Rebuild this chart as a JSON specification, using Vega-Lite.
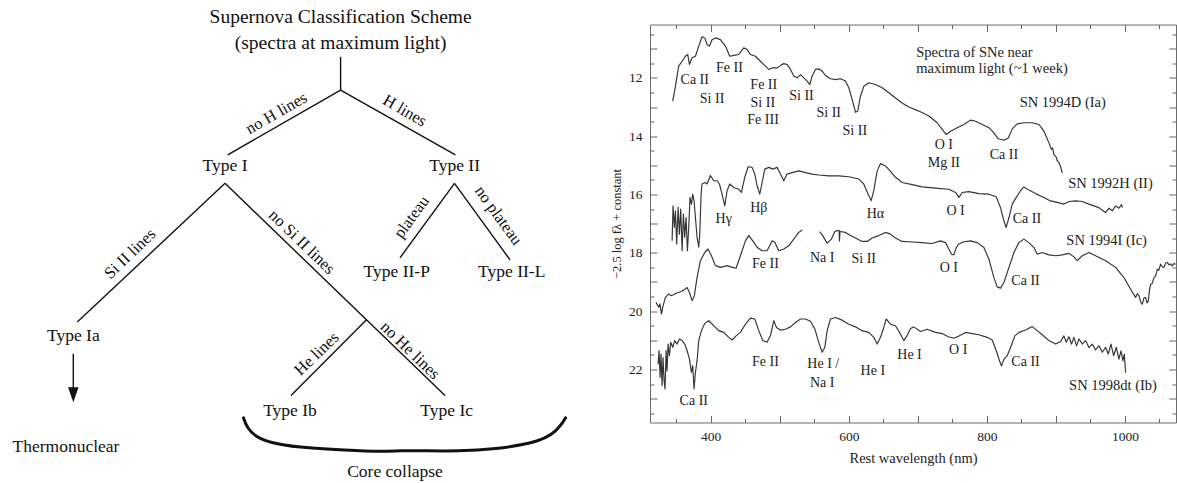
{
  "$schema": "https://vega.github.io/schema/vega-lite/v6.json",
  "padding": {"left": 0, "top": 6.5, "right": 0, "bottom": 0},
  "spacing": 10,
  "config": {
    "font": "Liberation Serif",
    "view": {"stroke": null},
    "axis": {
      "grid": false,
      "domain": false,
      "labelFont": "Liberation Serif",
      "titleFont": "Liberation Serif",
      "titleFontWeight": "normal",
      "labelColor": "#222222",
      "titleColor": "#222222",
      "tickColor": "#666666",
      "tickWidth": 1
    },
    "text": {"font": "Liberation Serif", "color": "#1a1a1a"}
  },
  "datasets": {
    "edges": [
      {"x": 340.6, "y": 56, "x2": 340.6, "y2": 89.3},
      {"x": 340.6, "y": 89.3, "x2": 227.7, "y2": 154},
      {"x": 340.6, "y": 89.3, "x2": 455.4, "y2": 154},
      {"x": 225, "y": 182.5, "x2": 77.3, "y2": 321.3},
      {"x": 225, "y": 182.5, "x2": 445, "y2": 394.7},
      {"x": 366.5, "y": 319, "x2": 291, "y2": 394.7},
      {"x": 454.5, "y": 182.5, "x2": 400, "y2": 257},
      {"x": 454.5, "y": 182.5, "x2": 510, "y2": 259},
      {"x": 73.3, "y": 353, "x2": 73.3, "y2": 390}
    ],
    "arrowHead": [{"x": 73.3, "y": 394}],
    "heading": [
      {"line": "Supernova Classification Scheme", "x": 340.6, "y": 16.5},
      {"line": "(spectra at maximum light)", "x": 340.6, "y": 42}
    ],
    "nodes": [
      {"label": "Type I", "x": 225, "y": 165},
      {"label": "Type II", "x": 454.6, "y": 165},
      {"label": "Type Ia", "x": 73.3, "y": 334.7},
      {"label": "Type II-P", "x": 396.7, "y": 271.3},
      {"label": "Type II-L", "x": 511.7, "y": 271.3},
      {"label": "Type Ib", "x": 290, "y": 409.7},
      {"label": "Type Ic", "x": 446.7, "y": 409.7},
      {"label": "Thermonuclear", "x": 66, "y": 446.3},
      {"label": "Core collapse", "x": 395, "y": 471.3}
    ],
    "branchLabels": [
      {"label": "no H lines", "x": 276.5, "y": 112.5},
      {"label": "H lines", "x": 404.7, "y": 110},
      {"label": "Si II lines", "x": 130, "y": 253},
      {"label": "no Si II lines", "x": 301.7, "y": 241.3},
      {"label": "plateau", "x": 411.7, "y": 216.3},
      {"label": "no plateau", "x": 498.3, "y": 214.7},
      {"label": "He lines", "x": 316.7, "y": 353},
      {"label": "no He lines", "x": 410, "y": 349.7}
    ],
    "brace": [
      {"x": 243.5, "y": 417}, {"x": 247, "y": 427}, {"x": 255, "y": 435.5},
      {"x": 270, "y": 442}, {"x": 296.7, "y": 446.5}, {"x": 346.7, "y": 449.5},
      {"x": 382.7, "y": 451}, {"x": 400, "y": 449.8}, {"x": 420, "y": 449.8},
      {"x": 459, "y": 450.5}, {"x": 496.7, "y": 448}, {"x": 528, "y": 443.3},
      {"x": 546.7, "y": 437}, {"x": 556, "y": 430}, {"x": 562, "y": 423}, {"x": 565.6, "y": 417}
    ],
    "spectra": [
      {"seg": "1994D", "wl": 344.9, "mag": 12.8}, {"seg": "1994D", "wl": 348.8, "mag": 12.29}, {"seg": "1994D", "wl": 353.6, "mag": 11.6},
      {"seg": "1994D", "wl": 358.5, "mag": 11.43}, {"seg": "1994D", "wl": 363.3, "mag": 11.26}, {"seg": "1994D", "wl": 366.7, "mag": 11.2},
      {"seg": "1994D", "wl": 369.1, "mag": 11.54}, {"seg": "1994D", "wl": 372.9, "mag": 11.31}, {"seg": "1994D", "wl": 377.8, "mag": 11.26},
      {"seg": "1994D", "wl": 382.6, "mag": 10.91}, {"seg": "1994D", "wl": 387.4, "mag": 10.59}, {"seg": "1994D", "wl": 391.3, "mag": 10.63},
      {"seg": "1994D", "wl": 394.7, "mag": 10.86}, {"seg": "1994D", "wl": 398.1, "mag": 10.91}, {"seg": "1994D", "wl": 401.9, "mag": 10.69},
      {"seg": "1994D", "wl": 406.8, "mag": 10.63}, {"seg": "1994D", "wl": 414.0, "mag": 10.69}, {"seg": "1994D", "wl": 421.3, "mag": 10.91},
      {"seg": "1994D", "wl": 427.5, "mag": 11.26}, {"seg": "1994D", "wl": 433.3, "mag": 11.23}, {"seg": "1994D", "wl": 440.6, "mag": 11.2},
      {"seg": "1994D", "wl": 447.8, "mag": 10.97}, {"seg": "1994D", "wl": 452.7, "mag": 11.03}, {"seg": "1994D", "wl": 457.5, "mag": 11.2},
      {"seg": "1994D", "wl": 464.7, "mag": 11.26}, {"seg": "1994D", "wl": 472.0, "mag": 11.43}, {"seg": "1994D", "wl": 479.2, "mag": 11.6},
      {"seg": "1994D", "wl": 484.1, "mag": 11.71}, {"seg": "1994D", "wl": 488.9, "mag": 11.66}, {"seg": "1994D", "wl": 496.1, "mag": 11.66},
      {"seg": "1994D", "wl": 501.0, "mag": 11.58}, {"seg": "1994D", "wl": 505.8, "mag": 11.51}, {"seg": "1994D", "wl": 510.6, "mag": 11.54},
      {"seg": "1994D", "wl": 515.5, "mag": 11.71}, {"seg": "1994D", "wl": 520.3, "mag": 11.94}, {"seg": "1994D", "wl": 525.1, "mag": 12.0},
      {"seg": "1994D", "wl": 530.0, "mag": 11.89}, {"seg": "1994D", "wl": 534.8, "mag": 12.0}, {"seg": "1994D", "wl": 539.6, "mag": 12.11},
      {"seg": "1994D", "wl": 543.5, "mag": 12.23}, {"seg": "1994D", "wl": 546.9, "mag": 11.94}, {"seg": "1994D", "wl": 551.7, "mag": 11.71},
      {"seg": "1994D", "wl": 556.5, "mag": 11.69}, {"seg": "1994D", "wl": 561.4, "mag": 11.77}, {"seg": "1994D", "wl": 566.2, "mag": 11.92},
      {"seg": "1994D", "wl": 573.4, "mag": 12.03}, {"seg": "1994D", "wl": 580.7, "mag": 12.06}, {"seg": "1994D", "wl": 587.9, "mag": 12.03},
      {"seg": "1994D", "wl": 595.2, "mag": 12.11}, {"seg": "1994D", "wl": 600.0, "mag": 12.34}, {"seg": "1994D", "wl": 604.8, "mag": 12.74},
      {"seg": "1994D", "wl": 609.7, "mag": 13.18}, {"seg": "1994D", "wl": 613.0, "mag": 13.14}, {"seg": "1994D", "wl": 616.9, "mag": 12.63},
      {"seg": "1994D", "wl": 621.7, "mag": 12.29}, {"seg": "1994D", "wl": 629.0, "mag": 12.17}, {"seg": "1994D", "wl": 638.6, "mag": 12.23},
      {"seg": "1994D", "wl": 648.3, "mag": 12.34}, {"seg": "1994D", "wl": 658.0, "mag": 12.51}, {"seg": "1994D", "wl": 667.6, "mag": 12.69},
      {"seg": "1994D", "wl": 677.3, "mag": 12.86}, {"seg": "1994D", "wl": 687.0, "mag": 13.0}, {"seg": "1994D", "wl": 701.5, "mag": 13.14},
      {"seg": "1994D", "wl": 716.0, "mag": 13.31}, {"seg": "1994D", "wl": 728.0, "mag": 13.54}, {"seg": "1994D", "wl": 735.3, "mag": 13.77},
      {"seg": "1994D", "wl": 741.0, "mag": 13.94}, {"seg": "1994D", "wl": 747.4, "mag": 13.83}, {"seg": "1994D", "wl": 757.0, "mag": 13.71},
      {"seg": "1994D", "wl": 766.7, "mag": 13.6}, {"seg": "1994D", "wl": 776.4, "mag": 13.45}, {"seg": "1994D", "wl": 783.6, "mag": 13.49},
      {"seg": "1994D", "wl": 793.3, "mag": 13.6}, {"seg": "1994D", "wl": 803.0, "mag": 13.71}, {"seg": "1994D", "wl": 810.2, "mag": 13.89},
      {"seg": "1994D", "wl": 816.5, "mag": 14.09}, {"seg": "1994D", "wl": 824.7, "mag": 14.14}, {"seg": "1994D", "wl": 831.0, "mag": 14.06},
      {"seg": "1994D", "wl": 836.8, "mag": 13.75}, {"seg": "1994D", "wl": 844.0, "mag": 13.58}, {"seg": "1994D", "wl": 853.7, "mag": 13.54},
      {"seg": "1994D", "wl": 865.7, "mag": 13.54}, {"seg": "1994D", "wl": 875.4, "mag": 13.6}, {"seg": "1994D", "wl": 882.7, "mag": 13.83},
      {"seg": "1994D", "wl": 889.9, "mag": 14.23}, {"seg": "1994D", "wl": 893.5, "mag": 14.45}, {"seg": "1994D", "wl": 895.2, "mag": 14.4},
      {"seg": "1994D", "wl": 897.1, "mag": 14.63}, {"seg": "1994D", "wl": 900.5, "mag": 14.72}, {"seg": "1994D", "wl": 902.2, "mag": 14.85},
      {"seg": "1994D", "wl": 904.4, "mag": 14.91}, {"seg": "1994D", "wl": 906.5, "mag": 15.02}, {"seg": "1994D", "wl": 907.6, "mag": 15.12},
      {"seg": "1994D", "wl": 909.2, "mag": 15.26},

      {"seg": "1992H", "wl": 344.0, "mag": 17.59}, {"seg": "1992H", "wl": 345.4, "mag": 16.39}, {"seg": "1992H", "wl": 347.3, "mag": 17.13},
      {"seg": "1992H", "wl": 348.8, "mag": 16.56}, {"seg": "1992H", "wl": 350.7, "mag": 17.7}, {"seg": "1992H", "wl": 352.7, "mag": 16.44},
      {"seg": "1992H", "wl": 354.6, "mag": 17.36}, {"seg": "1992H", "wl": 356.5, "mag": 16.5}, {"seg": "1992H", "wl": 358.5, "mag": 17.93},
      {"seg": "1992H", "wl": 360.4, "mag": 16.67}, {"seg": "1992H", "wl": 362.3, "mag": 17.47}, {"seg": "1992H", "wl": 364.3, "mag": 16.79},
      {"seg": "1992H", "wl": 366.2, "mag": 17.93}, {"seg": "1992H", "wl": 368.1, "mag": 17.13}, {"seg": "1992H", "wl": 370.0, "mag": 16.1},
      {"seg": "1992H", "wl": 372.0, "mag": 16.33}, {"seg": "1992H", "wl": 373.9, "mag": 15.99}, {"seg": "1992H", "wl": 375.8, "mag": 16.21},
      {"seg": "1992H", "wl": 377.8, "mag": 16.79}, {"seg": "1992H", "wl": 380.2, "mag": 17.47}, {"seg": "1992H", "wl": 382.6, "mag": 17.81},
      {"seg": "1992H", "wl": 384.1, "mag": 17.36}, {"seg": "1992H", "wl": 386.0, "mag": 15.99}, {"seg": "1992H", "wl": 387.4, "mag": 15.64},
      {"seg": "1992H", "wl": 391.3, "mag": 15.59}, {"seg": "1992H", "wl": 394.7, "mag": 15.64}, {"seg": "1992H", "wl": 399.5, "mag": 15.35},
      {"seg": "1992H", "wl": 404.3, "mag": 15.53}, {"seg": "1992H", "wl": 409.2, "mag": 15.53}, {"seg": "1992H", "wl": 412.6, "mag": 15.64},
      {"seg": "1992H", "wl": 416.4, "mag": 15.99}, {"seg": "1992H", "wl": 420.3, "mag": 16.39}, {"seg": "1992H", "wl": 423.7, "mag": 15.87},
      {"seg": "1992H", "wl": 427.5, "mag": 15.64}, {"seg": "1992H", "wl": 433.3, "mag": 15.76}, {"seg": "1992H", "wl": 439.6, "mag": 15.81},
      {"seg": "1992H", "wl": 444.4, "mag": 15.93}, {"seg": "1992H", "wl": 449.3, "mag": 15.41}, {"seg": "1992H", "wl": 454.1, "mag": 15.05},
      {"seg": "1992H", "wl": 459.9, "mag": 15.07}, {"seg": "1992H", "wl": 463.8, "mag": 15.3}, {"seg": "1992H", "wl": 467.1, "mag": 15.7},
      {"seg": "1992H", "wl": 471.0, "mag": 15.99}, {"seg": "1992H", "wl": 474.4, "mag": 15.59}, {"seg": "1992H", "wl": 478.3, "mag": 15.13},
      {"seg": "1992H", "wl": 484.1, "mag": 15.07}, {"seg": "1992H", "wl": 489.9, "mag": 15.13}, {"seg": "1992H", "wl": 496.1, "mag": 15.07},
      {"seg": "1992H", "wl": 501.0, "mag": 15.3}, {"seg": "1992H", "wl": 505.8, "mag": 15.53}, {"seg": "1992H", "wl": 510.6, "mag": 15.3},
      {"seg": "1992H", "wl": 517.9, "mag": 15.25}, {"seg": "1992H", "wl": 527.5, "mag": 15.19}, {"seg": "1992H", "wl": 537.2, "mag": 15.25},
      {"seg": "1992H", "wl": 546.9, "mag": 15.3}, {"seg": "1992H", "wl": 556.5, "mag": 15.33}, {"seg": "1992H", "wl": 571.0, "mag": 15.36},
      {"seg": "1992H", "wl": 585.5, "mag": 15.36}, {"seg": "1992H", "wl": 600.0, "mag": 15.39}, {"seg": "1992H", "wl": 614.5, "mag": 15.47},
      {"seg": "1992H", "wl": 621.7, "mag": 15.64}, {"seg": "1992H", "wl": 628.0, "mag": 15.99}, {"seg": "1992H", "wl": 632.4, "mag": 16.21},
      {"seg": "1992H", "wl": 636.2, "mag": 15.87}, {"seg": "1992H", "wl": 641.1, "mag": 15.19}, {"seg": "1992H", "wl": 645.9, "mag": 14.94},
      {"seg": "1992H", "wl": 653.1, "mag": 15.02}, {"seg": "1992H", "wl": 660.4, "mag": 15.21}, {"seg": "1992H", "wl": 667.6, "mag": 15.41},
      {"seg": "1992H", "wl": 677.3, "mag": 15.59}, {"seg": "1992H", "wl": 691.8, "mag": 15.66}, {"seg": "1992H", "wl": 706.3, "mag": 15.74},
      {"seg": "1992H", "wl": 725.6, "mag": 15.78}, {"seg": "1992H", "wl": 745.0, "mag": 15.82}, {"seg": "1992H", "wl": 754.6, "mag": 15.93},
      {"seg": "1992H", "wl": 759.5, "mag": 16.1}, {"seg": "1992H", "wl": 764.3, "mag": 15.93}, {"seg": "1992H", "wl": 774.0, "mag": 15.9},
      {"seg": "1992H", "wl": 788.4, "mag": 15.97}, {"seg": "1992H", "wl": 803.0, "mag": 15.99}, {"seg": "1992H", "wl": 813.6, "mag": 16.08},
      {"seg": "1992H", "wl": 819.9, "mag": 16.46}, {"seg": "1992H", "wl": 824.7, "mag": 16.91}, {"seg": "1992H", "wl": 828.0, "mag": 17.13},
      {"seg": "1992H", "wl": 832.0, "mag": 16.79}, {"seg": "1992H", "wl": 836.8, "mag": 16.33}, {"seg": "1992H", "wl": 842.6, "mag": 16.1},
      {"seg": "1992H", "wl": 848.8, "mag": 15.87}, {"seg": "1992H", "wl": 853.7, "mag": 15.74}, {"seg": "1992H", "wl": 860.9, "mag": 15.85},
      {"seg": "1992H", "wl": 870.6, "mag": 15.97}, {"seg": "1992H", "wl": 880.2, "mag": 16.08}, {"seg": "1992H", "wl": 892.3, "mag": 16.22},
      {"seg": "1992H", "wl": 901.9, "mag": 16.27}, {"seg": "1992H", "wl": 911.6, "mag": 16.33}, {"seg": "1992H", "wl": 918.9, "mag": 16.24},
      {"seg": "1992H", "wl": 928.5, "mag": 16.22}, {"seg": "1992H", "wl": 938.2, "mag": 16.24}, {"seg": "1992H", "wl": 947.9, "mag": 16.33},
      {"seg": "1992H", "wl": 955.1, "mag": 16.39}, {"seg": "1992H", "wl": 962.4, "mag": 16.45}, {"seg": "1992H", "wl": 967.2, "mag": 16.54},
      {"seg": "1992H", "wl": 972.0, "mag": 16.62}, {"seg": "1992H", "wl": 976.9, "mag": 16.47}, {"seg": "1992H", "wl": 981.7, "mag": 16.56},
      {"seg": "1992H", "wl": 986.5, "mag": 16.39}, {"seg": "1992H", "wl": 991.3, "mag": 16.47}, {"seg": "1992H", "wl": 995.2, "mag": 16.35},
      {"seg": "1992H", "wl": 996.2, "mag": 16.45},

      {"seg": "1994I-blue", "wl": 320.8, "mag": 19.7}, {"seg": "1994I-blue", "wl": 324.6, "mag": 19.87}, {"seg": "1994I-blue", "wl": 326.5, "mag": 19.75},
      {"seg": "1994I-blue", "wl": 328.5, "mag": 20.1}, {"seg": "1994I-blue", "wl": 330.4, "mag": 19.87}, {"seg": "1994I-blue", "wl": 334.3, "mag": 19.53},
      {"seg": "1994I-blue", "wl": 339.1, "mag": 19.41}, {"seg": "1994I-blue", "wl": 342.0, "mag": 19.47}, {"seg": "1994I-blue", "wl": 346.4, "mag": 19.44},
      {"seg": "1994I-blue", "wl": 350.0, "mag": 19.38}, {"seg": "1994I-blue", "wl": 353.6, "mag": 19.36}, {"seg": "1994I-blue", "wl": 357.0, "mag": 19.33},
      {"seg": "1994I-blue", "wl": 360.9, "mag": 19.28}, {"seg": "1994I-blue", "wl": 365.7, "mag": 19.19}, {"seg": "1994I-blue", "wl": 369.1, "mag": 19.36},
      {"seg": "1994I-blue", "wl": 373.0, "mag": 19.64}, {"seg": "1994I-blue", "wl": 376.3, "mag": 19.47}, {"seg": "1994I-blue", "wl": 380.2, "mag": 18.84},
      {"seg": "1994I-blue", "wl": 385.0, "mag": 18.27}, {"seg": "1994I-blue", "wl": 391.3, "mag": 17.99}, {"seg": "1994I-blue", "wl": 396.1, "mag": 17.87},
      {"seg": "1994I-blue", "wl": 401.0, "mag": 18.1}, {"seg": "1994I-blue", "wl": 406.8, "mag": 18.44}, {"seg": "1994I-blue", "wl": 414.0, "mag": 18.5},
      {"seg": "1994I-blue", "wl": 423.7, "mag": 18.44}, {"seg": "1994I-blue", "wl": 431.0, "mag": 18.5}, {"seg": "1994I-blue", "wl": 436.7, "mag": 18.53},
      {"seg": "1994I-blue", "wl": 443.0, "mag": 18.1}, {"seg": "1994I-blue", "wl": 450.2, "mag": 17.59}, {"seg": "1994I-blue", "wl": 455.1, "mag": 17.41},
      {"seg": "1994I-blue", "wl": 460.9, "mag": 17.59}, {"seg": "1994I-blue", "wl": 467.1, "mag": 17.81}, {"seg": "1994I-blue", "wl": 474.4, "mag": 17.93},
      {"seg": "1994I-blue", "wl": 481.6, "mag": 17.93}, {"seg": "1994I-blue", "wl": 488.9, "mag": 17.59}, {"seg": "1994I-blue", "wl": 492.8, "mag": 17.64},
      {"seg": "1994I-blue", "wl": 498.6, "mag": 17.93}, {"seg": "1994I-blue", "wl": 505.8, "mag": 17.87}, {"seg": "1994I-blue", "wl": 513.0, "mag": 17.76},
      {"seg": "1994I-blue", "wl": 520.3, "mag": 17.53}, {"seg": "1994I-blue", "wl": 527.5, "mag": 17.3}, {"seg": "1994I-blue", "wl": 532.4, "mag": 17.22},

      {"seg": "1994I-red", "wl": 557.5, "mag": 17.27}, {"seg": "1994I-red", "wl": 562.3, "mag": 17.41}, {"seg": "1994I-red", "wl": 568.6, "mag": 17.67},
      {"seg": "1994I-red", "wl": 574.9, "mag": 17.53}, {"seg": "1994I-red", "wl": 579.7, "mag": 17.27}, {"seg": "1994I-red", "wl": 583.6, "mag": 17.24},
      {"seg": "1994I-red", "wl": 586.0, "mag": 17.24}, {"seg": "1994I-red", "wl": 586.5, "mag": 17.59}, {"seg": "1994I-red", "wl": 587.2, "mag": 17.27},
      {"seg": "1994I-red", "wl": 595.2, "mag": 17.3}, {"seg": "1994I-red", "wl": 602.4, "mag": 17.41}, {"seg": "1994I-red", "wl": 609.7, "mag": 17.49},
      {"seg": "1994I-red", "wl": 619.3, "mag": 17.61}, {"seg": "1994I-red", "wl": 626.6, "mag": 17.61}, {"seg": "1994I-red", "wl": 633.8, "mag": 17.49},
      {"seg": "1994I-red", "wl": 643.5, "mag": 17.41}, {"seg": "1994I-red", "wl": 653.1, "mag": 17.3}, {"seg": "1994I-red", "wl": 660.4, "mag": 17.36},
      {"seg": "1994I-red", "wl": 667.6, "mag": 17.49}, {"seg": "1994I-red", "wl": 677.3, "mag": 17.61}, {"seg": "1994I-red", "wl": 691.8, "mag": 17.63},
      {"seg": "1994I-red", "wl": 706.3, "mag": 17.65}, {"seg": "1994I-red", "wl": 720.8, "mag": 17.68}, {"seg": "1994I-red", "wl": 732.9, "mag": 17.59},
      {"seg": "1994I-red", "wl": 740.1, "mag": 17.65}, {"seg": "1994I-red", "wl": 745.0, "mag": 17.88}, {"seg": "1994I-red", "wl": 748.8, "mag": 18.05},
      {"seg": "1994I-red", "wl": 752.2, "mag": 18.07}, {"seg": "1994I-red", "wl": 754.6, "mag": 17.88}, {"seg": "1994I-red", "wl": 758.5, "mag": 17.71},
      {"seg": "1994I-red", "wl": 766.7, "mag": 17.62}, {"seg": "1994I-red", "wl": 776.4, "mag": 17.59}, {"seg": "1994I-red", "wl": 786.0, "mag": 17.65},
      {"seg": "1994I-red", "wl": 795.7, "mag": 17.82}, {"seg": "1994I-red", "wl": 803.0, "mag": 18.22}, {"seg": "1994I-red", "wl": 810.2, "mag": 18.85},
      {"seg": "1994I-red", "wl": 815.0, "mag": 19.17}, {"seg": "1994I-red", "wl": 819.9, "mag": 19.21}, {"seg": "1994I-red", "wl": 824.7, "mag": 19.02},
      {"seg": "1994I-red", "wl": 832.0, "mag": 18.5}, {"seg": "1994I-red", "wl": 839.2, "mag": 17.99}, {"seg": "1994I-red", "wl": 846.4, "mag": 17.65},
      {"seg": "1994I-red", "wl": 853.7, "mag": 17.53}, {"seg": "1994I-red", "wl": 860.9, "mag": 17.65}, {"seg": "1994I-red", "wl": 868.2, "mag": 17.82},
      {"seg": "1994I-red", "wl": 873.0, "mag": 18.05}, {"seg": "1994I-red", "wl": 880.2, "mag": 17.99}, {"seg": "1994I-red", "wl": 889.9, "mag": 18.07},
      {"seg": "1994I-red", "wl": 899.6, "mag": 18.1}, {"seg": "1994I-red", "wl": 909.2, "mag": 18.07}, {"seg": "1994I-red", "wl": 918.9, "mag": 18.02},
      {"seg": "1994I-red", "wl": 926.1, "mag": 18.14}, {"seg": "1994I-red", "wl": 930.9, "mag": 18.27}, {"seg": "1994I-red", "wl": 938.2, "mag": 18.1},
      {"seg": "1994I-red", "wl": 947.9, "mag": 17.99}, {"seg": "1994I-red", "wl": 957.5, "mag": 18.1}, {"seg": "1994I-red", "wl": 972.0, "mag": 18.27},
      {"seg": "1994I-red", "wl": 986.5, "mag": 18.5}, {"seg": "1994I-red", "wl": 998.6, "mag": 18.85}, {"seg": "1994I-red", "wl": 1008.3, "mag": 19.25},
      {"seg": "1994I-red", "wl": 1012.0, "mag": 19.4}, {"seg": "1994I-red", "wl": 1015.5, "mag": 19.53}, {"seg": "1994I-red", "wl": 1018.0, "mag": 19.4},
      {"seg": "1994I-red", "wl": 1020.3, "mag": 19.47}, {"seg": "1994I-red", "wl": 1023.0, "mag": 19.7}, {"seg": "1994I-red", "wl": 1025.2, "mag": 19.76},
      {"seg": "1994I-red", "wl": 1027.5, "mag": 19.55}, {"seg": "1994I-red", "wl": 1030.0, "mag": 19.53}, {"seg": "1994I-red", "wl": 1032.0, "mag": 19.72},
      {"seg": "1994I-red", "wl": 1033.9, "mag": 19.65}, {"seg": "1994I-red", "wl": 1035.5, "mag": 19.3}, {"seg": "1994I-red", "wl": 1037.2, "mag": 19.08},
      {"seg": "1994I-red", "wl": 1039.5, "mag": 19.05}, {"seg": "1994I-red", "wl": 1042.1, "mag": 18.85}, {"seg": "1994I-red", "wl": 1044.5, "mag": 18.8},
      {"seg": "1994I-red", "wl": 1046.9, "mag": 18.56}, {"seg": "1994I-red", "wl": 1049.0, "mag": 18.6}, {"seg": "1994I-red", "wl": 1051.7, "mag": 18.39},
      {"seg": "1994I-red", "wl": 1054.0, "mag": 18.48}, {"seg": "1994I-red", "wl": 1056.6, "mag": 18.5}, {"seg": "1994I-red", "wl": 1059.0, "mag": 18.35},
      {"seg": "1994I-red", "wl": 1061.4, "mag": 18.33}, {"seg": "1994I-red", "wl": 1064.0, "mag": 18.42}, {"seg": "1994I-red", "wl": 1066.0, "mag": 18.38},
      {"seg": "1994I-red", "wl": 1068.6, "mag": 18.45}, {"seg": "1994I-red", "wl": 1071.0, "mag": 18.37}, {"seg": "1994I-red", "wl": 1073.5, "mag": 18.39},

      {"seg": "1998dt", "wl": 323.7, "mag": 21.82}, {"seg": "1998dt", "wl": 325.1, "mag": 21.35}, {"seg": "1998dt", "wl": 326.6, "mag": 22.27},
      {"seg": "1998dt", "wl": 328.0, "mag": 21.47}, {"seg": "1998dt", "wl": 329.5, "mag": 22.56}, {"seg": "1998dt", "wl": 330.9, "mag": 21.59},
      {"seg": "1998dt", "wl": 332.4, "mag": 22.39}, {"seg": "1998dt", "wl": 333.8, "mag": 22.67}, {"seg": "1998dt", "wl": 335.3, "mag": 21.35},
      {"seg": "1998dt", "wl": 336.7, "mag": 22.05}, {"seg": "1998dt", "wl": 338.2, "mag": 21.13}, {"seg": "1998dt", "wl": 340.1, "mag": 21.53},
      {"seg": "1998dt", "wl": 342.0, "mag": 21.07}, {"seg": "1998dt", "wl": 344.9, "mag": 21.24}, {"seg": "1998dt", "wl": 347.8, "mag": 21.01},
      {"seg": "1998dt", "wl": 351.2, "mag": 21.13}, {"seg": "1998dt", "wl": 354.6, "mag": 20.96}, {"seg": "1998dt", "wl": 358.5, "mag": 21.01},
      {"seg": "1998dt", "wl": 362.3, "mag": 21.13}, {"seg": "1998dt", "wl": 365.7, "mag": 21.35}, {"seg": "1998dt", "wl": 369.1, "mag": 21.64},
      {"seg": "1998dt", "wl": 372.0, "mag": 22.1}, {"seg": "1998dt", "wl": 373.9, "mag": 21.87}, {"seg": "1998dt", "wl": 375.8, "mag": 22.67},
      {"seg": "1998dt", "wl": 377.8, "mag": 22.1}, {"seg": "1998dt", "wl": 380.2, "mag": 21.7}, {"seg": "1998dt", "wl": 382.6, "mag": 21.01},
      {"seg": "1998dt", "wl": 386.5, "mag": 20.67}, {"seg": "1998dt", "wl": 391.3, "mag": 20.42}, {"seg": "1998dt", "wl": 397.1, "mag": 20.33},
      {"seg": "1998dt", "wl": 404.3, "mag": 20.5}, {"seg": "1998dt", "wl": 411.6, "mag": 20.67}, {"seg": "1998dt", "wl": 418.8, "mag": 20.73},
      {"seg": "1998dt", "wl": 426.1, "mag": 20.9}, {"seg": "1998dt", "wl": 430.9, "mag": 20.99}, {"seg": "1998dt", "wl": 436.7, "mag": 20.85},
      {"seg": "1998dt", "wl": 443.0, "mag": 20.73}, {"seg": "1998dt", "wl": 450.2, "mag": 20.45}, {"seg": "1998dt", "wl": 457.5, "mag": 20.24},
      {"seg": "1998dt", "wl": 463.8, "mag": 20.27}, {"seg": "1998dt", "wl": 469.6, "mag": 20.67}, {"seg": "1998dt", "wl": 475.4, "mag": 21.01},
      {"seg": "1998dt", "wl": 481.6, "mag": 21.07}, {"seg": "1998dt", "wl": 486.5, "mag": 20.84}, {"seg": "1998dt", "wl": 491.3, "mag": 20.33},
      {"seg": "1998dt", "wl": 495.2, "mag": 20.56}, {"seg": "1998dt", "wl": 501.0, "mag": 20.65}, {"seg": "1998dt", "wl": 508.2, "mag": 20.62},
      {"seg": "1998dt", "wl": 515.5, "mag": 20.54}, {"seg": "1998dt", "wl": 522.7, "mag": 20.39}, {"seg": "1998dt", "wl": 530.0, "mag": 20.27},
      {"seg": "1998dt", "wl": 537.2, "mag": 20.27}, {"seg": "1998dt", "wl": 544.4, "mag": 20.35}, {"seg": "1998dt", "wl": 550.7, "mag": 20.61},
      {"seg": "1998dt", "wl": 556.5, "mag": 21.07}, {"seg": "1998dt", "wl": 561.4, "mag": 21.41}, {"seg": "1998dt", "wl": 565.2, "mag": 21.25},
      {"seg": "1998dt", "wl": 568.6, "mag": 20.67}, {"seg": "1998dt", "wl": 573.4, "mag": 20.27}, {"seg": "1998dt", "wl": 580.7, "mag": 20.22},
      {"seg": "1998dt", "wl": 590.3, "mag": 20.31}, {"seg": "1998dt", "wl": 600.0, "mag": 20.45}, {"seg": "1998dt", "wl": 609.7, "mag": 20.54},
      {"seg": "1998dt", "wl": 619.3, "mag": 20.67}, {"seg": "1998dt", "wl": 629.0, "mag": 20.73}, {"seg": "1998dt", "wl": 636.2, "mag": 20.9},
      {"seg": "1998dt", "wl": 641.1, "mag": 21.13}, {"seg": "1998dt", "wl": 645.9, "mag": 20.9}, {"seg": "1998dt", "wl": 650.7, "mag": 20.56},
      {"seg": "1998dt", "wl": 654.1, "mag": 20.27}, {"seg": "1998dt", "wl": 660.4, "mag": 20.45}, {"seg": "1998dt", "wl": 667.6, "mag": 20.5},
      {"seg": "1998dt", "wl": 674.9, "mag": 20.79}, {"seg": "1998dt", "wl": 679.7, "mag": 21.01}, {"seg": "1998dt", "wl": 684.5, "mag": 20.84},
      {"seg": "1998dt", "wl": 689.5, "mag": 20.6}, {"seg": "1998dt", "wl": 694.2, "mag": 20.54}, {"seg": "1998dt", "wl": 703.9, "mag": 20.7},
      {"seg": "1998dt", "wl": 713.6, "mag": 20.62}, {"seg": "1998dt", "wl": 725.6, "mag": 20.73}, {"seg": "1998dt", "wl": 735.3, "mag": 20.77},
      {"seg": "1998dt", "wl": 744.0, "mag": 20.88}, {"seg": "1998dt", "wl": 752.2, "mag": 20.93}, {"seg": "1998dt", "wl": 759.5, "mag": 20.85},
      {"seg": "1998dt", "wl": 769.1, "mag": 20.73}, {"seg": "1998dt", "wl": 778.8, "mag": 20.77}, {"seg": "1998dt", "wl": 788.4, "mag": 20.81},
      {"seg": "1998dt", "wl": 800.5, "mag": 20.9}, {"seg": "1998dt", "wl": 807.8, "mag": 20.99}, {"seg": "1998dt", "wl": 813.6, "mag": 21.36},
      {"seg": "1998dt", "wl": 818.4, "mag": 21.71}, {"seg": "1998dt", "wl": 821.3, "mag": 21.88}, {"seg": "1998dt", "wl": 824.7, "mag": 21.65},
      {"seg": "1998dt", "wl": 829.5, "mag": 21.53}, {"seg": "1998dt", "wl": 834.3, "mag": 21.25}, {"seg": "1998dt", "wl": 840.6, "mag": 20.85},
      {"seg": "1998dt", "wl": 846.4, "mag": 20.73}, {"seg": "1998dt", "wl": 856.1, "mag": 20.65}, {"seg": "1998dt", "wl": 865.7, "mag": 20.53},
      {"seg": "1998dt", "wl": 873.0, "mag": 20.67}, {"seg": "1998dt", "wl": 880.2, "mag": 20.81}, {"seg": "1998dt", "wl": 889.9, "mag": 21.01},
      {"seg": "1998dt", "wl": 899.6, "mag": 21.13}, {"seg": "1998dt", "wl": 906.8, "mag": 21.04}, {"seg": "1998dt", "wl": 911.6, "mag": 20.85},
      {"seg": "1998dt", "wl": 915.0, "mag": 21.07}, {"seg": "1998dt", "wl": 918.9, "mag": 20.88}, {"seg": "1998dt", "wl": 922.7, "mag": 21.13},
      {"seg": "1998dt", "wl": 926.1, "mag": 20.9}, {"seg": "1998dt", "wl": 930.0, "mag": 21.19}, {"seg": "1998dt", "wl": 933.4, "mag": 20.95},
      {"seg": "1998dt", "wl": 938.2, "mag": 21.13}, {"seg": "1998dt", "wl": 943.0, "mag": 21.01}, {"seg": "1998dt", "wl": 947.9, "mag": 21.25},
      {"seg": "1998dt", "wl": 952.7, "mag": 21.13}, {"seg": "1998dt", "wl": 957.5, "mag": 21.33}, {"seg": "1998dt", "wl": 962.4, "mag": 21.19},
      {"seg": "1998dt", "wl": 967.2, "mag": 21.41}, {"seg": "1998dt", "wl": 972.0, "mag": 21.24}, {"seg": "1998dt", "wl": 975.9, "mag": 21.47},
      {"seg": "1998dt", "wl": 979.8, "mag": 21.13}, {"seg": "1998dt", "wl": 983.6, "mag": 21.53}, {"seg": "1998dt", "wl": 987.5, "mag": 21.24},
      {"seg": "1998dt", "wl": 991.3, "mag": 21.65}, {"seg": "1998dt", "wl": 994.3, "mag": 21.36}, {"seg": "1998dt", "wl": 997.1, "mag": 21.71},
      {"seg": "1998dt", "wl": 999.1, "mag": 21.47}, {"seg": "1998dt", "wl": 1001.0, "mag": 22.11}
    ],
    "lineIds": [
      {"ion": "Ca II", "wl": 376.8, "mag": 12.06}, {"ion": "Fe II", "wl": 427.1, "mag": 11.66}, {"ion": "Si II", "wl": 401.9, "mag": 12.72},
      {"ion": "Fe II", "wl": 476.8, "mag": 12.25}, {"ion": "Si II", "wl": 475.4, "mag": 12.86}, {"ion": "Fe III", "wl": 475.8, "mag": 13.45},
      {"ion": "Si II", "wl": 531.4, "mag": 12.63}, {"ion": "Si II", "wl": 571.0, "mag": 13.22}, {"ion": "Si II", "wl": 608.7, "mag": 13.81},
      {"ion": "O I", "wl": 737.7, "mag": 14.29}, {"ion": "Mg II", "wl": 737.7, "mag": 14.91}, {"ion": "Ca II", "wl": 824.7, "mag": 14.63},
      {"ion": "Hγ", "wl": 418.8, "mag": 16.85}, {"ion": "Hβ", "wl": 469.6, "mag": 16.45}, {"ion": "Hα", "wl": 638.6, "mag": 16.66},
      {"ion": "O I", "wl": 754.6, "mag": 16.56}, {"ion": "Ca II", "wl": 858.0, "mag": 16.85},
      {"ion": "Fe II", "wl": 479.2, "mag": 18.39}, {"ion": "Na I", "wl": 561.4, "mag": 18.18}, {"ion": "Si II", "wl": 621.7, "mag": 18.21},
      {"ion": "O I", "wl": 745.0, "mag": 18.53}, {"ion": "Ca II", "wl": 856.0, "mag": 18.96},
      {"ion": "Ca II", "wl": 375.4, "mag": 23.07}, {"ion": "Fe II", "wl": 479.2, "mag": 21.76}, {"ion": "He I /", "wl": 563.0, "mag": 21.82},
      {"ion": "Na I", "wl": 561.4, "mag": 22.45}, {"ion": "He I", "wl": 634.8, "mag": 22.07}, {"ion": "He I", "wl": 688.0, "mag": 21.5},
      {"ion": "O I", "wl": 758.5, "mag": 21.34}, {"ion": "Ca II", "wl": 856.0, "mag": 21.76}
    ],
    "snNames": [
      {"name": "SN 1994D (Ia)", "wl": 910.0, "mag": 12.86},
      {"name": "SN 1992H (II)", "wl": 979.0, "mag": 15.65},
      {"name": "SN 1994I (Ic)", "wl": 973.5, "mag": 17.59},
      {"name": "SN 1998dt (Ib)", "wl": 982.7, "mag": 22.56}
    ],
    "note": [
      {"line": "Spectra of SNe near", "wl": 697.6, "mag": 11.14},
      {"line": "maximum light (~1 week)", "wl": 697.6, "mag": 11.71}
    ]
  },
  "hconcat": [
    {
      "width": 600,
      "height": 398,
      "view": {"stroke": null},
      "layer": [
        {
          "data": {"name": "edges"},
          "mark": {"type": "rule", "color": "#111111", "strokeWidth": 1.4},
          "encoding": {
            "x": {"field": "x", "type": "quantitative", "scale": {"domain": [0, 600], "nice": false, "zero": false}, "axis": null},
            "y": {"field": "y", "type": "quantitative", "scale": {"domain": [23.7, 421.7], "reverse": true, "nice": false, "zero": false}, "axis": null},
            "x2": {"field": "x2"},
            "y2": {"field": "y2"}
          }
        },
        {
          "data": {"name": "arrowHead"},
          "mark": {"type": "point", "shape": "M-0.7,-1L0.7,-1L0,1Z", "filled": true, "color": "#111111", "opacity": 1, "size": 225},
          "encoding": {
            "x": {"field": "x", "type": "quantitative", "scale": {"domain": [0, 600], "nice": false, "zero": false}, "axis": null},
            "y": {"field": "y", "type": "quantitative", "scale": {"domain": [23.7, 421.7], "reverse": true, "nice": false, "zero": false}, "axis": null}
          }
        },
        {
          "data": {"name": "brace"},
          "mark": {"type": "line", "color": "#111111", "strokeWidth": 3, "interpolate": "basis", "strokeCap": "round"},
          "encoding": {
            "x": {"field": "x", "type": "quantitative", "scale": {"domain": [0, 600], "nice": false, "zero": false}, "axis": null},
            "y": {"field": "y", "type": "quantitative", "scale": {"domain": [23.7, 421.7], "reverse": true, "nice": false, "zero": false}, "axis": null}
          }
        },
        {
          "data": {"name": "heading"},
          "mark": {"type": "text", "fontSize": 19.5, "align": "center", "baseline": "middle", "color": "#111111"},
          "encoding": {
            "x": {"field": "x", "type": "quantitative", "scale": {"domain": [0, 600], "nice": false, "zero": false}, "axis": null},
            "y": {"field": "y", "type": "quantitative", "scale": {"domain": [23.7, 421.7], "reverse": true, "nice": false, "zero": false}, "axis": null},
            "text": {"field": "line"}
          }
        },
        {
          "data": {"name": "nodes"},
          "mark": {"type": "text", "fontSize": 17.5, "align": "center", "baseline": "middle", "color": "#111111"},
          "encoding": {
            "x": {"field": "x", "type": "quantitative", "scale": {"domain": [0, 600], "nice": false, "zero": false}, "axis": null},
            "y": {"field": "y", "type": "quantitative", "scale": {"domain": [23.7, 421.7], "reverse": true, "nice": false, "zero": false}, "axis": null},
            "text": {"field": "label"}
          }
        },
        {
          "data": {"name": "branchLabels"},
          "transform": [{"filter": {"field": "label", "oneOf": ["no H lines"]}}],
          "mark": {"type": "text", "fontSize": 16.5, "align": "center", "baseline": "middle", "angle": 330, "color": "#111111"},
          "encoding": {
            "x": {"field": "x", "type": "quantitative", "scale": {"domain": [0, 600], "nice": false, "zero": false}, "axis": null},
            "y": {"field": "y", "type": "quantitative", "scale": {"domain": [23.7, 421.7], "reverse": true, "nice": false, "zero": false}, "axis": null},
            "text": {"field": "label"}
          }
        },
        {
          "data": {"name": "branchLabels"},
          "transform": [{"filter": {"field": "label", "oneOf": ["H lines"]}}],
          "mark": {"type": "text", "fontSize": 16.5, "align": "center", "baseline": "middle", "angle": 30, "color": "#111111"},
          "encoding": {
            "x": {"field": "x", "type": "quantitative", "scale": {"domain": [0, 600], "nice": false, "zero": false}, "axis": null},
            "y": {"field": "y", "type": "quantitative", "scale": {"domain": [23.7, 421.7], "reverse": true, "nice": false, "zero": false}, "axis": null},
            "text": {"field": "label"}
          }
        },
        {
          "data": {"name": "branchLabels"},
          "transform": [{"filter": {"field": "label", "oneOf": ["Si II lines", "He lines"]}}],
          "mark": {"type": "text", "fontSize": 16.5, "align": "center", "baseline": "middle", "angle": 316, "color": "#111111"},
          "encoding": {
            "x": {"field": "x", "type": "quantitative", "scale": {"domain": [0, 600], "nice": false, "zero": false}, "axis": null},
            "y": {"field": "y", "type": "quantitative", "scale": {"domain": [23.7, 421.7], "reverse": true, "nice": false, "zero": false}, "axis": null},
            "text": {"field": "label"}
          }
        },
        {
          "data": {"name": "branchLabels"},
          "transform": [{"filter": {"field": "label", "oneOf": ["no Si II lines", "no He lines"]}}],
          "mark": {"type": "text", "fontSize": 16.5, "align": "center", "baseline": "middle", "angle": 44, "color": "#111111"},
          "encoding": {
            "x": {"field": "x", "type": "quantitative", "scale": {"domain": [0, 600], "nice": false, "zero": false}, "axis": null},
            "y": {"field": "y", "type": "quantitative", "scale": {"domain": [23.7, 421.7], "reverse": true, "nice": false, "zero": false}, "axis": null},
            "text": {"field": "label"}
          }
        },
        {
          "data": {"name": "branchLabels"},
          "transform": [{"filter": {"field": "label", "oneOf": ["plateau"]}}],
          "mark": {"type": "text", "fontSize": 16.5, "align": "center", "baseline": "middle", "angle": 306, "color": "#111111"},
          "encoding": {
            "x": {"field": "x", "type": "quantitative", "scale": {"domain": [0, 600], "nice": false, "zero": false}, "axis": null},
            "y": {"field": "y", "type": "quantitative", "scale": {"domain": [23.7, 421.7], "reverse": true, "nice": false, "zero": false}, "axis": null},
            "text": {"field": "label"}
          }
        },
        {
          "data": {"name": "branchLabels"},
          "transform": [{"filter": {"field": "label", "oneOf": ["no plateau"]}}],
          "mark": {"type": "text", "fontSize": 16.5, "align": "center", "baseline": "middle", "angle": 54, "color": "#111111"},
          "encoding": {
            "x": {"field": "x", "type": "quantitative", "scale": {"domain": [0, 600], "nice": false, "zero": false}, "axis": null},
            "y": {"field": "y", "type": "quantitative", "scale": {"domain": [23.7, 421.7], "reverse": true, "nice": false, "zero": false}, "axis": null},
            "text": {"field": "label"}
          }
        }
      ]
    },
    {
      "width": 526,
      "height": 398,
      "view": {"stroke": "#6a6a6a", "strokeWidth": 1},
      "resolve": {"axis": {"x": "independent", "y": "independent"}},
      "layer": [
        {
          "data": {"name": "spectra"},
          "mark": {"type": "line", "color": "#333333", "strokeWidth": 1.15, "strokeJoin": "round"},
          "encoding": {
            "x": {
              "field": "wl", "type": "quantitative",
              "scale": {"domain": [312, 1074], "nice": false, "zero": false},
              "axis": {"orient": "bottom", "values": [400, 500, 600, 700, 800, 900, 1000], "format": "d", "labelExpr": "datum.value % 200 === 0 ? datum.label : ''", "tickSize": -7, "labelPadding": 14, "labelFontSize": 13.5, "labelFlush": false, "title": "Rest wavelength (nm)", "titleFontSize": 14.5, "titlePadding": 8}
            },
            "y": {
              "field": "mag", "type": "quantitative",
              "scale": {"domain": [10.17, 23.82], "reverse": true, "nice": false, "zero": false},
              "axis": {"orient": "left", "values": [11, 12, 13, 14, 15, 16, 17, 18, 19, 20, 21, 22, 23], "labelExpr": "datum.value % 2 === 0 ? datum.label : ''", "tickSize": -7, "labelPadding": 15, "labelFontSize": 13.5, "labelFlush": false, "title": "−2.5 log fλ + constant", "titleFontSize": 12.5, "titlePadding": 5}
            },
            "detail": {"field": "seg"}
          }
        },
        {
          "data": {"name": "lineIds"},
          "mark": {"type": "text", "fontSize": 14, "align": "center", "baseline": "middle", "color": "#222222"},
          "encoding": {
            "x": {
              "field": "wl", "type": "quantitative",
              "scale": {"domain": [312, 1074], "nice": false, "zero": false},
              "axis": {"orient": "top", "values": [400, 500, 600, 700, 800, 900, 1000], "labels": false, "tickSize": -7, "title": null}
            },
            "y": {
              "field": "mag", "type": "quantitative",
              "scale": {"domain": [10.17, 23.82], "reverse": true, "nice": false, "zero": false},
              "axis": {"orient": "right", "values": [11, 12, 13, 14, 15, 16, 17, 18, 19, 20, 21, 22, 23], "labels": false, "tickSize": -7, "title": null}
            },
            "text": {"field": "ion"}
          }
        },
        {
          "data": {"name": "snNames"},
          "mark": {"type": "text", "fontSize": 14.5, "align": "center", "baseline": "middle", "color": "#222222"},
          "encoding": {
            "x": {
              "field": "wl", "type": "quantitative",
              "scale": {"domain": [312, 1074], "nice": false, "zero": false},
              "axis": {"orient": "bottom", "values": [350, 450, 550, 650, 750, 850, 950, 1050], "labels": false, "tickSize": -4, "title": null}
            },
            "y": {
              "field": "mag", "type": "quantitative",
              "scale": {"domain": [10.17, 23.82], "reverse": true, "nice": false, "zero": false},
              "axis": {"orient": "left", "values": [10.5, 11.5, 12.5, 13.5, 14.5, 15.5, 16.5, 17.5, 18.5, 19.5, 20.5, 21.5, 22.5, 23.5], "labels": false, "tickSize": -4, "title": null}
            },
            "text": {"field": "name"}
          }
        },
        {
          "data": {"name": "note"},
          "mark": {"type": "text", "fontSize": 14.5, "align": "left", "baseline": "middle", "color": "#222222"},
          "encoding": {
            "x": {
              "field": "wl", "type": "quantitative",
              "scale": {"domain": [312, 1074], "nice": false, "zero": false},
              "axis": {"orient": "top", "values": [350, 450, 550, 650, 750, 850, 950, 1050], "labels": false, "tickSize": -4, "title": null}
            },
            "y": {
              "field": "mag", "type": "quantitative",
              "scale": {"domain": [10.17, 23.82], "reverse": true, "nice": false, "zero": false},
              "axis": {"orient": "right", "values": [10.5, 11.5, 12.5, 13.5, 14.5, 15.5, 16.5, 17.5, 18.5, 19.5, 20.5, 21.5, 22.5, 23.5], "labels": false, "tickSize": -4, "title": null}
            },
            "text": {"field": "line"}
          }
        }
      ]
    }
  ]
}
